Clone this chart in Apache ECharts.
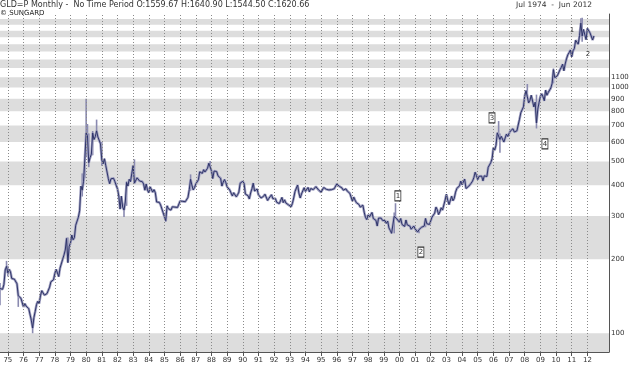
<!DOCTYPE html>
<html>
<head>
<meta charset="utf-8">
<script src="https://cdn.jsdelivr.net/npm/echarts@6/dist/echarts.min.js"></script>
<style>
html,body{margin:0;padding:0;background:#fff;}
#chart{width:630px;height:370px;}
</style>
</head>
<body>
<div id="chart"></div>
<script>
// ---- data (monthly closes, starting Jul 1974) ----
const startYear = 1974;
const startMonth = 7;
const close1970s = [152,154,151,158,181,187,
  176,182,178,167,167,166,167,159,142,143,139,140,
  128,132,129,128,126,124,113,105,116,123,131,135,
  132,142,149,148,143,141,145,145,154,162,161,165,
  175,182,181,170,184,184,200,208,218,243,194,226,
  233,251,240,245,275,277,296,315,397,382,415,512];
const close1980s = [653,637,494,518,535,653,614,631,666,629,619,590,
  506,489,513,482,479,426,406,425,428,427,414,400,
  387,362,320,361,326,317,342,411,397,423,414,448,
  481,408,414,429,437,416,422,414,405,382,405,382,
  373,394,388,375,384,373,342,348,341,333,329,309,
  306,287,330,321,316,317,327,333,326,325,325,327,
  345,339,344,345,343,346,357,384,423,401,383,391,
  405,405,421,454,452,447,463,453,459,469,492,484,
  458,426,457,449,455,437,437,427,397,412,422,410,
  394,387,383,377,362,373,368,359,366,375,408,401];
const close1990s = [415,407,368,367,363,352,372,387,408,379,384,386,
  366,363,355,357,361,368,362,347,354,358,366,353,
  354,353,341,337,337,343,357,340,349,339,334,333,
  330,327,337,355,377,378,401,372,355,369,371,391,
  378,381,392,376,388,386,384,386,395,389,383,383,
  375,376,392,390,385,387,383,382,384,382,387,387,
  405,401,396,392,390,382,385,387,379,379,371,369,
  345,358,348,340,345,334,326,325,332,311,296,290,
  303,297,301,310,293,296,288,273,294,292,294,288,
  287,287,280,286,268,262,255,255,299,299,292,290];
const close2000s = [283,293,277,276,272,289,276,277,273,265,270,273,
  266,267,258,264,266,270,266,273,293,279,275,277,
  282,297,302,308,326,318,304,312,324,317,319,348,
  368,348,334,336,361,346,354,375,388,386,398,416,
  402,396,424,388,394,396,391,408,416,429,452,438,
  422,435,428,436,417,437,429,434,473,470,495,513,
  569,556,582,654,643,614,633,624,600,604,646,632,
  650,665,662,679,659,650,666,673,743,789,783,834,
  923,971,916,865,886,930,913,833,871,718,816,869,
  919,942,916,883,975,930,954,949,995,1040,1182,1096];
const close2010s = [1081,1116,1113,1180,1207,1244,1169,1246,1307,1357,1386,1421,
  1333,1410,1439,1556,1536,1500,1628,1828,1620,1722,1746,1565,
  1738,1711,1668,1664,1560,1621];

// monthly high-low ranges for the most volatile months: [year, month, low, high]
const rangeMonths = [
  [1974,7,130,160],[1974,12,183,197],[1975,1,170,188],[1975,9,128,150],
  [1976,8,100,113],[1978,10,216,245],[1978,11,193,245],
  [1979,10,360,447],[1979,12,427,525],
  [1980,1,520,900],[1980,2,600,710],[1980,3,474,650],[1980,6,530,665],[1980,9,633,740],
  [1981,1,480,600],[1982,6,297,330],[1982,8,330,415],[1983,2,408,510],
  [1985,2,284,310],[1986,9,380,443],[1987,12,470,502],
  [1999,9,255,310],[1999,10,295,338],[2001,4,255,266],[2001,9,270,294],
  [2006,5,640,730],[2006,6,542,650],[2008,3,915,1033],[2008,10,681,935],
  [2009,11,1040,1195],[2011,8,1610,1912],[2011,9,1535,1921]
];

const yearTicks = [1975,1976,1977,1978,1979,1980,1981,1982,1983,1984,1985,1986,1987,1988,1989,
  1990,1991,1992,1993,1994,1995,1996,1997,1998,1999,2000,2001,2002,2003,2004,2005,2006,2007,2008,
  2009,2010,2011,2012];
const priceTicks = [100,200,300,400,500,600,700,800,900,1000,1100];
const greyBands = [[83.9,100],[200,300],[400,500],[600,700],[800,900],[1000,1100],[1200,1300],[1400,1500],[1600,1700],[1800,1900]];
const waveLabels = [
  {name:'1', boxed:true, x:1999.9, y:362},
  {name:'2', boxed:true, x:2001.37, y:214},
  {name:'3', boxed:true, x:2005.91, y:752},
  {name:'4', boxed:true, x:2009.29, y:589},
  {name:'1', boxed:false, x:2011.02, y:1714},
  {name:'2', boxed:false, x:2012.04, y:1368}
];
const headerText = 'GLD=P Monthly -  No Time Period O:1559.67 H:1640.90 L:1544.50 C:1620.66';
const sourceText = '\u00A9 SUNGARD';
const rangeText = 'Jul 1974  -  Jun 2012';

// ---- build ----
const closes = [].concat(close1970s, close1980s, close1990s, close2000s, close2010s);
const seriesData = closes.map((v, i) => [startYear + (startMonth - 1 + i) / 12, v]);
const rangeData = rangeMonths.map(r => [r[0] + (r[1] - 1) / 12, r[2], r[3]]);

const font = 'DejaVu Sans';
const chart = echarts.init(document.getElementById('chart'), null, {renderer:'canvas'});

const markLineData = [];
yearTicks.forEach(y => markLineData.push({xAxis: y, label:{show:false},
  lineStyle:{type:[1,2], color:'#8a8a8a', width:1}}));
priceTicks.forEach(p => markLineData.push({yAxis: p,
  lineStyle:{color:'rgba(0,0,0,0)', width:1, type:'solid'},
  label:{show:true, position:'end', distance:2, formatter: String(p),
    color:'#333', fontSize:7, fontFamily:font}}));

const markPointData = waveLabels.map(w => ({
  coord:[w.x, w.y], value:w.name,
  symbol:'rect', symbolSize: w.boxed ? [6,10] : [6,9],
  itemStyle: w.boxed ? {color:'#fff', borderColor:'#333', borderWidth:1} : {color:'rgba(255,255,255,0)', borderWidth:0},
  label:{show:true, formatter:w.name, color:'#333', fontSize:7, fontFamily:font}
}));

chart.setOption({
  animation:false,
  backgroundColor:'#ffffff',
  title:[
    {text:headerText, left:0, top:1, padding:0, textStyle:{fontSize:8, fontWeight:'normal', color:'#333', fontFamily:font}},
    {text:sourceText, left:0, top:10, padding:0, textStyle:{fontSize:7, fontWeight:'normal', color:'#222', fontFamily:font}},
    {text:rangeText, right:38, top:1, padding:0, textStyle:{fontSize:7.5, fontWeight:'normal', color:'#333', fontFamily:font}}
  ],
  grid:{left:0, right:21, top:14, bottom:18, containLabel:false},
  xAxis:{
    type:'value', min:1974.5, max:2013.38,
    axisLine:{show:true, onZero:false, lineStyle:{color:'#555', width:1}},
    axisTick:{show:true, customValues:yearTicks, length:4, lineStyle:{color:'#555'}},
    axisLabel:{show:true, customValues:yearTicks, margin:5,
      formatter:v => String(Math.round(v) % 100).padStart(2,'0'),
      color:'#333', fontSize:7, fontFamily:font},
    splitLine:{show:false}
  },
  yAxis:{
    type:'log', logBase:10, min:83.9, max:1990, position:'right',
    axisLine:{show:true, lineStyle:{color:'#555', width:1}},
    axisTick:{show:false}, axisLabel:{show:false}, splitLine:{show:false}
  },
  series:[
    {
      type:'line', data:seriesData, showSymbol:false, symbol:'none',
      lineStyle:{color:'#a2a2c2', width:2.6}, z:2,
      markArea:{silent:true, itemStyle:{color:'#dddddd'},
        data: greyBands.map(b => [{yAxis:b[0]},{yAxis:b[1]}])},
      markLine:{silent:true, symbol:['none','none'], data:markLineData, animation:false}
    },
    {
      type:'custom', data:rangeData, z:2, silent:true, clip:true,
      encode:{x:0, y:[1,2]},
      renderItem:function(params, api){
        const x = api.value(0);
        const lo = api.coord([x, api.value(1)]);
        const hi = api.coord([x, api.value(2)]);
        return {type:'line', shape:{x1:lo[0], y1:lo[1], x2:hi[0], y2:hi[1]},
          style:{stroke:'#8a8ab0', lineWidth:1.6}};
      }
    },
    {
      type:'line', data:seriesData, showSymbol:false, symbol:'none',
      lineStyle:{color:'#2e3468', width:1}, z:3,
      markPoint:{silent:true, data:markPointData}
    }
  ]
});
</script>
</body>
</html>
